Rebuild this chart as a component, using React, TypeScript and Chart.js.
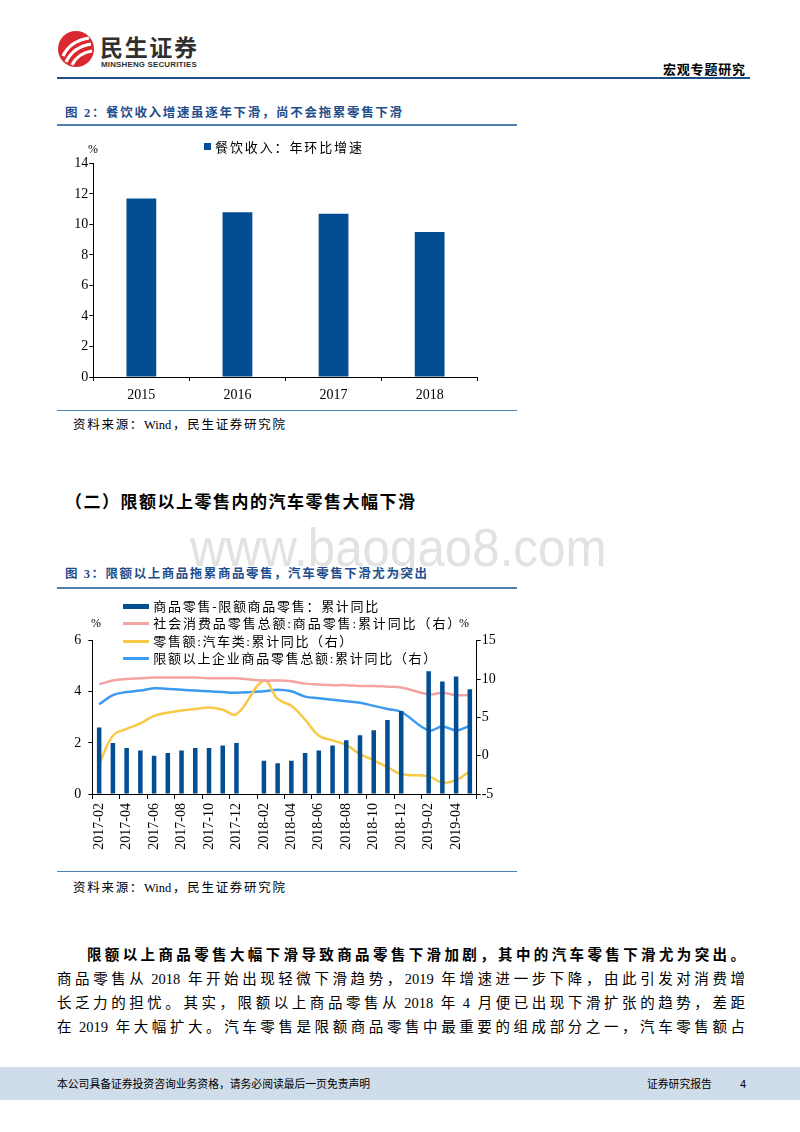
import React, { useEffect, useRef } from "react";
import { Chart, registerables } from "chart.js";

Chart.register(...registerables);

// ---------- Figure 2 data ----------
const fig2Years = ["2015", "2016", "2017", "2018"];
const fig2Catering = [11.7, 10.8, 10.7, 9.5];
const fig2YTicks = [0, 2, 4, 6, 8, 10, 12, 14];

// ---------- Figure 3 data ----------
const fig3Months = [
  "2017-02", "2017-03", "2017-04", "2017-05", "2017-06", "2017-07", "2017-08",
  "2017-09", "2017-10", "2017-11", "2017-12",
  "2018-01", "2018-02", "2018-03", "2018-04", "2018-05", "2018-06", "2018-07",
  "2018-08", "2018-09", "2018-10", "2018-11", "2018-12",
  "2019-01", "2019-02", "2019-03", "2019-04", "2019-05",
];
// 商品零售-限额商品零售：累计同比 (left axis)
const fig3Gap = [
  2.6, 2.0, 1.8, 1.7, 1.5, 1.6, 1.7, 1.8, 1.8, 1.9, 2.0,
  null, 1.3, 1.2, 1.3, 1.6, 1.7, 1.9, 2.1, 2.3, 2.5, 2.9, 3.25,
  null, 4.8, 4.4, 4.6, 4.1,
];
// 社会消费品零售总额:商品零售:累计同比 (right axis)
const fig3Goods = [
  9.3, 9.8, 10.0, 10.1, 10.2, 10.2, 10.2, 10.2, 10.1, 10.1, 10.1,
  null, 9.8, 9.8, 9.7, 9.4, 9.3, 9.2, 9.2, 9.1, 9.1, 9.0, 8.9,
  null, 8.0, 8.2, 7.9, 7.9,
];
// 零售额:汽车类:累计同比 (right axis)
const fig3Auto = [
  -1.1, 2.6, 3.5, 4.2, 5.2, 5.6, 5.9, 6.1, 6.3, 6.0, 5.4,
  null, 9.8, 7.4, 6.5, 4.7, 2.6, 2.0, 1.4, 0.2, -0.6, -1.5, -2.4,
  null, -2.7, -3.5, -3.2, -2.0,
];
// 限额以上企业商品零售总额:累计同比 (right axis)
const fig3AboveQuota = [
  6.7, 7.9, 8.3, 8.5, 8.8, 8.7, 8.6, 8.5, 8.4, 8.3, 8.2,
  null, 8.4, 8.6, 8.4, 7.7, 7.5, 7.3, 7.1, 6.9, 6.5, 6.1, 5.7,
  null, 3.3, 3.8, 3.3, 3.9,
];
const fig3LeftTicks = [0, 2, 4, 6];
const fig3RightTicks = [-5, 0, 5, 10, 15];

const fig3Legend = [
  { label: "商品零售-限额商品零售：累计同比", color: "#034e92", kind: "bar", width: 225 },
  { label: "社会消费品零售总额:商品零售:累计同比（右）", color: "#f4a3a3", kind: "line", width: 307 },
  { label: "零售额:汽车类:累计同比（右）", color: "#f8c948", kind: "line", width: 199 },
  { label: "限额以上企业商品零售总额:累计同比（右）", color: "#3d9bef", kind: "line", width: 283 },
];

const SERIF = '"Liberation Serif", "Noto Sans CJK SC", serif';
const SANS = '"Liberation Sans", "Noto Sans CJK SC", sans-serif';
const BAR_BLUE = "#034e92";

type LineProps = {
  x: number;
  y: number;
  w?: number;
  size: number;
  bold?: boolean;
  color?: string;
  family?: string;
  ls?: number;
  children: React.ReactNode;
};

function Line({ x, y, w, size, bold, color, family, ls, children }: LineProps) {
  const lh = Math.round(size * 1.3);
  const style: React.CSSProperties = {
    position: "absolute",
    left: x,
    top: y - lh / 2,
    height: lh,
    lineHeight: lh + "px",
    fontSize: size,
    fontWeight: bold ? 700 : 400,
    color: color || "#000",
    fontFamily: family || SERIF,
    letterSpacing: ls || 0,
  };
  if (w) {
    style.width = w;
    style.textAlign = "justify";
    (style as any).textAlignLast = "justify";
  } else {
    style.whiteSpace = "nowrap";
  }
  return <div style={style}>{children}</div>;
}

function Num({ children, left = 4 }: { children: React.ReactNode; left?: number }) {
  return <span style={{ marginLeft: left, marginRight: 4 }}>{children}</span>;
}

function Rule({ x, y, w, h, color }: { x: number; y: number; w: number; h: number; color: string }) {
  return <div style={{ position: "absolute", left: x, top: y, width: w, height: h, background: color }} />;
}

function CateringChart() {
  const ref = useRef<HTMLCanvasElement>(null);
  useEffect(() => {
    if (!ref.current) return;
    const font = { family: SERIF, size: 14 };
    const chart = new Chart(ref.current, {
      type: "bar",
      data: {
        labels: fig2Years,
        datasets: [
          {
            label: "餐饮收入：年环比增速",
            data: fig2Catering,
            backgroundColor: BAR_BLUE,
            barPercentage: 0.31,
            categoryPercentage: 1,
          },
        ],
      },
      options: {
        responsive: false,
        animation: false,
        devicePixelRatio: 1,
        layout: { padding: { top: 28.3, right: 32.3, left: 0, bottom: 0 } },
        plugins: { legend: { display: false }, tooltip: { enabled: false } },
        scales: {
          x: {
            offset: true,
            grid: { offset: true, drawOnChartArea: false, drawTicks: true, tickLength: 4, color: "#000" },
            border: { color: "#000", width: 1 },
            ticks: { font, color: "#000", padding: 6 },
            afterFit: (s: any) => {
              s.height = 28;
            },
          },
          y: {
            min: 0,
            max: 14,
            afterBuildTicks: (s: any) => {
              s.ticks = fig2YTicks.map((v) => ({ value: v }));
            },
            grid: { drawOnChartArea: false, drawTicks: true, tickLength: 4, color: "#000" },
            border: { color: "#000", width: 1 },
            ticks: { font, color: "#000", padding: 1 },
            afterFit: (s: any) => {
              s.width = 53.3;
            },
          },
        },
      },
    });
    return () => chart.destroy();
  }, []);
  return (
    <canvas
      ref={ref}
      width={470}
      height={270}
      style={{ position: "absolute", left: 40, top: 135, width: 470, height: 270 }}
    />
  );
}

function RetailChart() {
  const ref = useRef<HTMLCanvasElement>(null);
  useEffect(() => {
    if (!ref.current) return;
    const font = { family: SERIF, size: 14 };
    const lineCommon = {
      type: "line" as const,
      borderWidth: 2.5,
      pointRadius: 0,
      tension: 0.4,
      spanGaps: true,
      yAxisID: "yR",
      order: 1,
    };
    const chart = new Chart(ref.current, {
      type: "bar",
      data: {
        labels: fig3Months,
        datasets: [
          {
            type: "bar",
            label: fig3Legend[0].label,
            data: fig3Gap,
            backgroundColor: BAR_BLUE,
            barPercentage: 0.33,
            categoryPercentage: 1,
            yAxisID: "yL",
            order: 0,
          },
          { ...lineCommon, label: fig3Legend[1].label, data: fig3Goods, borderColor: fig3Legend[1].color },
          { ...lineCommon, label: fig3Legend[2].label, data: fig3Auto, borderColor: fig3Legend[2].color },
          { ...lineCommon, label: fig3Legend[3].label, data: fig3AboveQuota, borderColor: fig3Legend[3].color },
        ] as any,
      },
      options: {
        responsive: false,
        animation: false,
        devicePixelRatio: 1,
        layout: { padding: { top: 45.7, right: 0, left: 0, bottom: 0 } },
        plugins: { legend: { display: false }, tooltip: { enabled: false } },
        scales: {
          x: {
            offset: true,
            grid: {
              offset: true,
              drawOnChartArea: false,
              drawTicks: true,
              tickLength: 5,
              color: (ctx: any) =>
                ctx.index === undefined || ctx.index % 2 === 0 ? "#000" : "rgba(0,0,0,0)",
            },
            border: { color: "#000", width: 1 },
            ticks: {
              autoSkip: false,
              minRotation: 90,
              maxRotation: 90,
              font,
              color: "#000",
              padding: 4,
              callback: (_v: any, i: number) => (i % 2 === 0 ? fig3Months[i] : ""),
            },
            afterFit: (s: any) => {
              s.height = 71;
            },
          },
          yL: {
            position: "left",
            min: 0,
            max: 6,
            afterBuildTicks: (s: any) => {
              s.ticks = fig3LeftTicks.map((v) => ({ value: v }));
            },
            grid: { drawOnChartArea: false, drawTicks: true, tickLength: 4, color: "#000" },
            border: { color: "#000", width: 1 },
            ticks: { font, color: "#000", padding: 7 },
            afterFit: (s: any) => {
              s.width = 52.3;
            },
          },
          yR: {
            position: "right",
            min: -5,
            max: 15,
            afterBuildTicks: (s: any) => {
              s.ticks = fig3RightTicks.map((v) => ({ value: v }));
            },
            grid: { drawOnChartArea: false, drawTicks: true, tickLength: 4, color: "#000" },
            border: { color: "#000", width: 1 },
            ticks: { font, color: "#000", padding: 1 },
            afterFit: (s: any) => {
              s.width = 43.3;
            },
          },
        },
      },
    });
    return () => chart.destroy();
  }, []);
  return (
    <canvas
      ref={ref}
      width={480}
      height={270}
      style={{ position: "absolute", left: 40, top: 595, width: 480, height: 270 }}
    />
  );
}

function Logo() {
  return (
    <svg
      width={40}
      height={40}
      viewBox="0 0 40 40"
      style={{ position: "absolute", left: 56, top: 29 }}
    >
      <circle cx={20} cy={20} r={18} fill="#d9282f" />
      <path d="M7 27 Q14 12 33 9" stroke="#fff" strokeWidth={3.2} fill="none" />
      <path d="M10 33 Q17 18 35 15" stroke="#fff" strokeWidth={3.2} fill="none" />
      <path d="M16 36 Q22 24 36 22" stroke="#fff" strokeWidth={3.2} fill="none" />
    </svg>
  );
}

export default function App() {
  const titleBlue = "#1f4e8d";
  const ruleBlue = "#4f7fb0";
  return (
    <div
      style={{
        position: "absolute",
        left: 0,
        top: 0,
        width: 800,
        height: 1132,
        background: "#fff",
        overflow: "hidden",
      }}
    >
      {/* header */}
      <Logo />
      <Line x={100} y={48} w={97} size={23} bold color="#303030" family={SANS}>
        民生证券
      </Line>
      <Line x={101} y={64.5} size={7.9} bold color="#303030" family={SANS} ls={0.2}>
        MINSHENG SECURITIES
      </Line>
      <Line x={663} y={69} w={82} size={13} bold>
        宏观专题研究
      </Line>
      <Rule x={57} y={76.5} w={693} h={2.5} color="#1f4f89" />

      {/* Figure 2 */}
      <Line x={65} y={113} w={337} size={12.5} bold color={titleBlue}>
        图 2：餐饮收入增速虽逐年下滑，尚不会拖累零售下滑
      </Line>
      <Rule x={57} y={124} w={460} h={2} color={ruleBlue} />
      <CateringChart />
      <Line x={88} y={149} size={12}>
        %
      </Line>
      <div style={{ position: "absolute", left: 204, top: 143, width: 7, height: 7, background: BAR_BLUE }} />
      <Line x={215} y={147} w={147} size={13}>
        餐饮收入：年环比增速
      </Line>
      <Rule x={57} y={409.5} w={460} h={1.5} color={ruleBlue} />
      <Line x={73} y={425} w={212} size={12.5}>
        资料来源：Wind，民生证券研究院
      </Line>

      {/* Section heading */}
      <Line x={65} y={503} w={350} size={17} bold>
        （二）限额以上零售内的汽车零售大幅下滑
      </Line>

      {/* watermark */}
      <div
        style={{
          position: "absolute",
          left: 190,
          top: 518,
          fontFamily: SANS,
          fontSize: 53,
          lineHeight: "60px",
          color: "#e2e2e2",
          whiteSpace: "nowrap",
          transform: "scaleX(0.93)",
          transformOrigin: "left top",
        }}
      >
        www.baogao8.com
      </div>

      {/* Figure 3 */}
      <Line x={65} y={574} w={362} size={12.5} bold color={titleBlue}>
        图 3：限额以上商品拖累商品零售，汽车零售下滑尤为突出
      </Line>
      <Rule x={57} y={587} w={460} h={2} color={ruleBlue} />
      <RetailChart />
      <Line x={91} y={623} size={12}>
        %
      </Line>
      <Line x={459} y={623} size={12}>
        %
      </Line>
      {fig3Legend.map((it, i) => {
        const cy = [606, 623.5, 641.5, 658.5][i];
        return (
          <React.Fragment key={i}>
            <div
              style={{
                position: "absolute",
                left: 123.3,
                top: it.kind === "bar" ? cy - 2.5 : cy - 1.25,
                width: 26,
                height: it.kind === "bar" ? 5 : 2.5,
                background: it.color,
              }}
            />
            <Line x={153.3} y={cy} w={it.width} size={13}>
              {it.label}
            </Line>
          </React.Fragment>
        );
      })}
      <Rule x={57} y={870.5} w={460} h={1.5} color={ruleBlue} />
      <Line x={73} y={888} w={212} size={12.5}>
        资料来源：Wind，民生证券研究院
      </Line>

      {/* paragraph */}
      <Line x={87} y={955} w={658} size={14.5} bold>
        限额以上商品零售大幅下滑导致商品零售下滑加剧，其中的汽车零售下滑尤为突出。
      </Line>
      <Line x={57} y={979} w={688} size={14.5}>
        商品零售从<Num>2018</Num>年开始出现轻微下滑趋势，<Num left={0}>2019</Num>年增速进一步下降，由此引发对消费增
      </Line>
      <Line x={57} y={1003} w={688} size={14.5}>
        长乏力的担忧。其实，限额以上商品零售从<Num>2018</Num>年<Num>4</Num>月便已出现下滑扩张的趋势，差距
      </Line>
      <Line x={57} y={1027} w={688} size={14.5}>
        在<Num>2019</Num>年大幅扩大。汽车零售是限额商品零售中最重要的组成部分之一，汽车零售额占
      </Line>

      {/* footer */}
      <Rule x={0} y={1067} w={800} h={33} color="#cfdcea" />
      <Line x={57} y={1084} size={10.8} family={SANS}>
        本公司具备证券投资咨询业务资格，请务必阅读最后一页免责声明
      </Line>
      <Line x={647} y={1084} size={10.8} family={SANS}>
        证券研究报告
      </Line>
      <Line x={740} y={1084} size={11} family={SANS}>
        4
      </Line>
    </div>
  );
}
